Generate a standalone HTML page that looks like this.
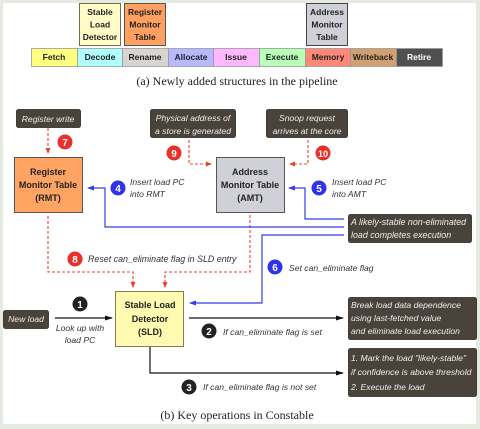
<!DOCTYPE html>
<html><head><style>
html,body{margin:0;padding:0;background:#e6ebe2;}
svg{display:block}
.b{font-family:"Liberation Sans Narrow","Liberation Sans",sans-serif;font-weight:bold;font-size:8.5px;fill:#222}
.bb{font-family:"Liberation Sans",sans-serif;font-weight:bold;font-size:9px;fill:#222}
.i{font-family:"Liberation Sans",sans-serif;font-style:italic;font-size:8.6px;fill:#333}
.w{font-family:"Liberation Sans",sans-serif;font-style:italic;font-size:8.6px;fill:#eee}
.c{font-family:"Liberation Serif",serif;font-size:12px;fill:#222}
.n{font-family:"Liberation Sans",sans-serif;font-weight:bold;font-size:10px;fill:#fff}
</style></head><body>
<svg width="480" height="429" viewBox="0 0 480 429" xmlns="http://www.w3.org/2000/svg">
<defs>
<marker id="ar" markerWidth="6" markerHeight="6" refX="5" refY="3" orient="auto" markerUnits="userSpaceOnUse"><path d="M0,0.5 L6,3 L0,5.5z" fill="#f04030"/></marker>
<marker id="ab" markerWidth="7" markerHeight="6" refX="6" refY="3" orient="auto" markerUnits="userSpaceOnUse"><path d="M0,0.5 L7,3 L0,5.5z" fill="#3040e0"/></marker>
<marker id="ak" markerWidth="8" markerHeight="6" refX="7" refY="3" orient="auto" markerUnits="userSpaceOnUse"><path d="M0,0.5 L8,3 L0,5.5z" fill="#111"/></marker>
</defs>
<rect x="3" y="3" width="473" height="421" fill="#fff"/>
<rect x="79.5" y="3.5" width="41" height="42" fill="#fffcc8" stroke="#7a6a50"/>
<text class="b" text-anchor="middle"><tspan x="100" y="15">Stable</tspan><tspan x="100" y="27.5">Load</tspan><tspan x="100" y="40">Detector</tspan></text>
<rect x="124.5" y="3.5" width="41" height="42" fill="#ffa060" stroke="#555"/>
<text class="b" text-anchor="middle"><tspan x="145" y="15">Register</tspan><tspan x="145" y="27.5">Monitor</tspan><tspan x="145" y="40">Table</tspan></text>
<rect x="306.5" y="3.5" width="41" height="42" fill="#d0d0d8" stroke="#444"/>
<text class="b" text-anchor="middle"><tspan x="327" y="15">Address</tspan><tspan x="327" y="27.5">Monitor</tspan><tspan x="327" y="40">Table</tspan></text>
<g stroke="#999" stroke-width="0.8">
<rect x="31.5" y="48.5" width="46" height="18" fill="#ffff80"/>
<rect x="77.5" y="48.5" width="45" height="18" fill="#b0ffff"/>
<rect x="122.5" y="48.5" width="46" height="18" fill="#d8d4d0"/>
<rect x="168.5" y="48.5" width="45" height="18" fill="#b8b8ff"/>
<rect x="213.5" y="48.5" width="46" height="18" fill="#ffb8ff"/>
<rect x="259.5" y="48.5" width="46" height="18" fill="#b8ffb8"/>
<rect x="305.5" y="48.5" width="45" height="18" fill="#ff8878"/>
<rect x="350.5" y="48.5" width="46" height="18" fill="#d0a070"/>
<rect x="396.5" y="48.5" width="46" height="18" fill="#505050"/>
</g>
<g class="b" text-anchor="middle">
<text x="54" y="60">Fetch</text><text x="100" y="60">Decode</text><text x="145" y="60">Rename</text><text x="191" y="60">Allocate</text><text x="236" y="60">Issue</text><text x="282" y="60">Execute</text><text x="328" y="60">Memory</text><text x="373" y="60">Writeback</text><text x="419" y="60" style="fill:#fff">Retire</text>
</g>
<text class="c" x="237" y="85" text-anchor="middle">(a) Newly added structures in the pipeline</text>
<g fill="#4a433c" stroke="#2a2520" stroke-width="0.8">
<rect x="16.5" y="109.5" width="64" height="18" rx="2"/>
<rect x="150.5" y="109.5" width="85" height="28" rx="2"/>
<rect x="266.5" y="109.5" width="81" height="28" rx="2"/>
<rect x="348.5" y="214.5" width="123" height="28" rx="2"/>
<rect x="3.5" y="310.5" width="45" height="18" rx="2"/>
<rect x="348.5" y="297.5" width="128" height="42" rx="2"/>
<rect x="348.5" y="348.5" width="128" height="48" rx="2"/>
</g>
<text class="w" x="48" y="122" text-anchor="middle">Register write</text>
<text class="w" text-anchor="middle"><tspan x="193" y="121">Physical address of</tspan><tspan x="193" y="134">a store is generated</tspan></text>
<text class="w" text-anchor="middle"><tspan x="307" y="121">Snoop request</tspan><tspan x="307" y="134">arrives at the core</tspan></text>
<text class="w" style="font-size:8.9px"><tspan x="351" y="225">A likely-stable non-eliminated</tspan><tspan x="351" y="238">load completes execution</tspan></text>
<text class="w" x="26" y="322" text-anchor="middle">New load</text>
<text class="w"><tspan x="351" y="308">Break load data dependence</tspan><tspan x="351" y="321">using last-fetched value</tspan><tspan x="351" y="334">and eliminate load execution</tspan></text>
<text class="w"><tspan x="351" y="361">1. Mark the load "likely-stable"</tspan><tspan x="351" y="375">if confidence is above threshold</tspan><tspan x="351" y="390">2. Execute the load</tspan></text>
<rect x="14.5" y="157.5" width="68" height="55" fill="#ffa462" stroke="#555"/>
<text class="bb" text-anchor="middle"><tspan x="48" y="175">Register</tspan><tspan x="48" y="188">Monitor Table</tspan><tspan x="48" y="201">(RMT)</tspan></text>
<rect x="216.5" y="157.5" width="68" height="55" fill="#d0d0d8" stroke="#555"/>
<text class="bb" text-anchor="middle"><tspan x="250" y="175">Address</tspan><tspan x="250" y="188">Monitor Table</tspan><tspan x="250" y="201">(AMT)</tspan></text>
<rect x="115.5" y="291.5" width="68" height="55" fill="#fffab0" stroke="#8a7a50"/>
<text class="bb" text-anchor="middle"><tspan x="150" y="308">Stable Load</tspan><tspan x="150" y="322">Detector</tspan><tspan x="150" y="335">(SLD)</tspan></text>
<g fill="none" stroke="#f04030" stroke-width="1.1" stroke-dasharray="3,2">
<path d="M48,128 V153" marker-end="url(#ar)"/>
<path d="M189,140 V164 H211" marker-end="url(#ar)"/>
<path d="M308,140 V164 H290" marker-end="url(#ar)"/>
<path d="M48,216 V272 H133 V287" marker-end="url(#ar)"/>
<path d="M250,215 V272 H165 V287" marker-end="url(#ar)"/>
</g>
<g fill="none" stroke="#3040e0" stroke-width="1.2">
<path d="M344,227 H105 V188 H88" marker-end="url(#ab)"/>
<path d="M344,219 H305 V188 H289" marker-end="url(#ab)"/>
<path d="M344,235 H262 V303 H190" marker-end="url(#ab)"/>
</g>
<g fill="none" stroke="#111" stroke-width="1.2">
<path d="M55,318 H112" marker-end="url(#ak)"/>
<path d="M189,318 H343" marker-end="url(#ak)"/>
<path d="M150,347 V373 H343" marker-end="url(#ak)"/>
</g>
<g>
<circle cx="65" cy="142" r="7.5" fill="#e8302a"/><text class="n" x="65" y="146" text-anchor="middle">7</text>
<circle cx="174" cy="153" r="7.5" fill="#e8302a"/><text class="n" x="174" y="157" text-anchor="middle">9</text>
<circle cx="323" cy="153" r="7.5" fill="#e8302a"/><text class="n" x="323" y="157" text-anchor="middle" style="font-size:9px">10</text>
<circle cx="75" cy="259" r="7.5" fill="#e8302a"/><text class="n" x="75" y="263" text-anchor="middle">8</text>
<circle cx="118" cy="188" r="7.5" fill="#3034e8"/><text class="n" x="118" y="192" text-anchor="middle">4</text>
<circle cx="319" cy="188" r="7.5" fill="#3034e8"/><text class="n" x="319" y="192" text-anchor="middle">5</text>
<circle cx="275" cy="267" r="7.5" fill="#3034e8"/><text class="n" x="275" y="271" text-anchor="middle">6</text>
<circle cx="80" cy="304" r="7.5" fill="#222"/><text class="n" x="80" y="308" text-anchor="middle">1</text>
<circle cx="209" cy="331" r="7.5" fill="#222"/><text class="n" x="209" y="335" text-anchor="middle">2</text>
<circle cx="189" cy="387" r="7.5" fill="#222"/><text class="n" x="189" y="391" text-anchor="middle">3</text>
</g>
<text class="i"><tspan x="130" y="185">Insert load PC</tspan><tspan x="130" y="197">into RMT</tspan></text>
<text class="i"><tspan x="332" y="185">Insert load PC</tspan><tspan x="332" y="197">into AMT</tspan></text>
<text class="i" x="88" y="262" style="font-size:8.9px">Reset can_eliminate flag in SLD entry</text>
<text class="i" x="289" y="271">Set can_eliminate flag</text>
<text class="i" text-anchor="middle"><tspan x="80" y="331">Look up with</tspan><tspan x="80" y="343">load PC</tspan></text>
<text class="i" x="223" y="335">If can_eliminate flag is set</text>
<text class="i" x="203" y="390">If can_eliminate flag is not set</text>
<text class="c" x="237" y="419" text-anchor="middle">(b) Key operations in Constable</text>
</svg>
</body></html>
